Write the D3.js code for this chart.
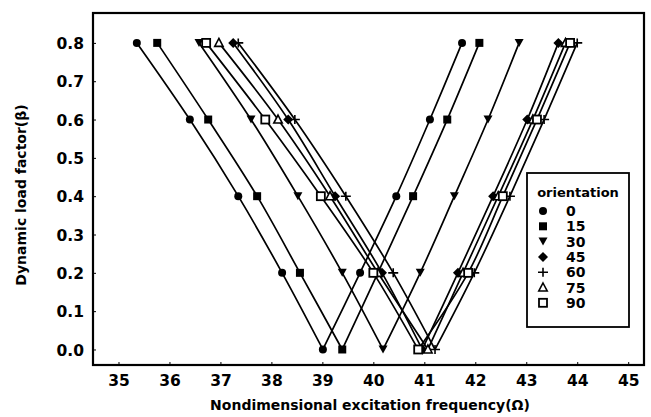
<!DOCTYPE html>
<html><head><meta charset="utf-8">
<script src="https://cdn.jsdelivr.net/npm/d3@7"></script>
<style>
body{margin:0;background:#fff;}
svg{display:block;font-family:"DejaVu Sans",sans-serif;}
</style></head>
<body><svg id="c" width="651" height="417"></svg>
<script>
const betaLeft = [0.8, 0.6, 0.4, 0.2, 0.0];
const betaRight = [0.0, 0.2, 0.4, 0.6, 0.8];
const orientations = ["0", "15", "30", "45", "60", "75", "90"];
// left branch frequencies (beta 0.8 -> 0.0)
const left0  = [35.36, 36.40, 37.35, 38.21, 39.01];
const left15 = [35.76, 36.76, 37.72, 38.56, 39.39];
const left30 = [36.58, 37.60, 38.52, 39.39, 40.19];
const left45 = [37.25, 38.33, 39.25, 40.17, 40.96];
const left60 = [37.35, 38.46, 39.46, 40.39, 41.21];
const left75 = [36.97, 38.13, 39.15, 40.09, 41.07];
const left90 = [36.72, 37.88, 38.97, 40.00, 40.88];
// right branch frequencies (beta 0.2 -> 0.8)
const right0  = [39.74, 40.45, 41.11, 41.74];
const right15 = [40.09, 40.78, 41.45, 42.08];
const right30 = [40.92, 41.59, 42.25, 42.86];
const right45 = [41.66, 42.35, 43.02, 43.63];
const right60 = [41.98, 42.68, 43.35, 44.00];
const right75 = [41.76, 42.45, 43.13, 43.77];
const right90 = [41.86, 42.54, 43.21, 43.86];
const xTicks = [35, 36, 37, 38, 39, 40, 41, 42, 43, 44, 45];
const yTicks = [0.0, 0.1, 0.2, 0.3, 0.4, 0.5, 0.6, 0.7, 0.8];

const lefts = [left0, left15, left30, left45, left60, left75, left90];
const rights = [right0, right15, right30, right45, right60, right75, right90];
const symbols = ["circle", "square", "tridown", "diamond", "plus", "triup", "opensquare"];

const svg = d3.select("#c");
const L = 93, R = 644, T = 13, B = 365;
const x = d3.scaleLinear().domain([34.5, 45.31]).range([L, R]);
const y = d3.scaleLinear().domain([-0.0405, 0.878]).range([B, T]);

// frame
svg.append("rect").attr("x", L).attr("y", T).attr("width", R - L).attr("height", B - T)
  .attr("fill", "none").attr("stroke", "#000").attr("stroke-width", 2.2);

// axes
const xAxis = svg.append("g").attr("transform", `translate(0,${B})`)
  .call(d3.axisBottom(x).tickValues(xTicks).tickFormat(d3.format("d")).tickSizeInner(-3).tickSizeOuter(0).tickPadding(10));
const yAxis = svg.append("g").attr("transform", `translate(${L},0)`)
  .call(d3.axisLeft(y).tickValues(yTicks).tickFormat(d3.format(".1f")).tickSizeInner(-3).tickSizeOuter(0).tickPadding(9));
[xAxis, yAxis].forEach(a => {
  a.select(".domain").remove();
  a.selectAll("line").attr("stroke", "#000").attr("stroke-width", 1);
  a.selectAll("text").attr("font-size", 15.5).attr("font-weight", "bold")
    .attr("font-family", "DejaVu Sans, sans-serif").attr("fill", "#000");
});
yAxis.selectAll("text").attr("dy", "0.36em");

svg.append("text").attr("x", 370).attr("y", 410).attr("text-anchor", "middle")
  .attr("font-size", 14).attr("font-weight", "bold").text("Nondimensional excitation frequency(Ω)");
svg.append("text").attr("transform", "translate(26,195) rotate(-90)").attr("text-anchor", "middle")
  .attr("font-size", 14).attr("font-weight", "bold").text("Dynamic load factor(β)");

function drawSym(g, type, cx, cy) {
  const s = g.append("g").attr("transform", `translate(${cx},${cy})`);
  switch (type) {
    case "circle": s.append("circle").attr("r", 4).attr("fill", "#000"); break;
    case "square": s.append("rect").attr("x", -4).attr("y", -4).attr("width", 8).attr("height", 8).attr("fill", "#000"); break;
    case "tridown": s.append("path").attr("d", "M-4.5,-4L4.5,-4L0,4Z").attr("fill", "#000"); break;
    case "diamond": s.append("path").attr("d", "M0,-5L5,0L0,5L-5,0Z").attr("fill", "#000"); break;
    case "plus": s.append("path").attr("d", "M-5,0L5,0M0,-4.5L0,4.5").attr("stroke", "#000").attr("stroke-width", 1.6).attr("fill", "none"); break;
    case "triup": s.append("path").attr("d", "M0,-4.5L4.2,3.5L-4.2,3.5Z").attr("fill", "#fff").attr("stroke", "#000").attr("stroke-width", 1.6); break;
    case "opensquare": s.append("rect").attr("x", -4).attr("y", -4).attr("width", 8).attr("height", 8).attr("fill", "#fff").attr("stroke", "#000").attr("stroke-width", 1.8); break;
  }
}

const lineGen = d3.line().x(d => x(d[0])).y(d => y(d[1])).curve(d3.curveCatmullRom.alpha(0.5));
const gLines = svg.append("g");
const gSyms = svg.append("g");
orientations.forEach((o, i) => {
  const lp = lefts[i].map((v, j) => [v, betaLeft[j]]);
  const rp = [[lefts[i][4], 0.0]].concat(rights[i].map((v, j) => [v, betaRight[j + 1]]));
  gLines.append("path").attr("d", lineGen(lp)).attr("fill", "none").attr("stroke", "#000").attr("stroke-width", 1.7);
  gLines.append("path").attr("d", lineGen(rp)).attr("fill", "none").attr("stroke", "#000").attr("stroke-width", 1.7);
  lp.concat(rp.slice(1)).forEach(p => drawSym(gSyms, symbols[i], x(p[0]), y(p[1])));
});

// legend
const lg = svg.append("g");
lg.append("rect").attr("x", 527).attr("y", 173).attr("width", 102).attr("height", 154)
  .attr("fill", "#fff").attr("stroke", "#000").attr("stroke-width", 1.8);
lg.append("text").attr("x", 578).attr("y", 197).attr("text-anchor", "middle").attr("font-size", 13)
  .attr("font-weight", "bold").text("orientation");
orientations.forEach((o, i) => {
  const yy = 211 + i * 15.3;
  drawSym(lg, symbols[i], 543, yy);
  lg.append("text").attr("x", 566).attr("y", yy).attr("dy", "0.36em").attr("font-size", 14)
    .attr("font-weight", "bold").text(o);
});
</script></body></html>
